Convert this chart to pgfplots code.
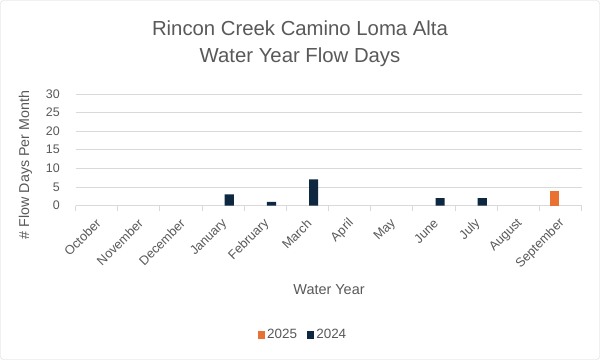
\documentclass[border=0pt]{standalone}
\usepackage{fontspec}
\setmainfont{Liberation Sans}
\usepackage{pgfplots}
\pgfplotsset{compat=1.18}
\definecolor{navy}{HTML}{0E2841}
\definecolor{orng}{HTML}{E97132}
\definecolor{txt}{HTML}{595959}
\definecolor{grd}{HTML}{D9D9D9}
\begin{document}
\begin{tikzpicture}[x=1bp,y=1bp]
\draw[grd, rounded corners=3bp, fill=white] (0.5,0.5) rectangle (599.5,359.5);
\path[use as bounding box] (0,0) rectangle (600,360);
\node[txt, font=\fontsize{20.4}{24}\selectfont] at (300,331.7) {Rincon Creek Camino Loma Alta};
\node[txt, font=\fontsize{20.4}{24}\selectfont] at (300,302.7) {Water Year Flow Days};
\node[txt, font=\fontsize{14.3}{17}\selectfont, rotate=90] at (25.5,195) {\# Flow Days Per Month};
\node[txt, font=\fontsize{14.5}{17}\selectfont] at (329,70) {Water Year};
\begin{axis}[
  at={(75.5bp,154.5bp)}, anchor=south west, scale only axis,
  width=506bp, height=111.5bp,
  ymin=0, ymax=30, ytick={0,5,...,30},
  xmin=-0.5, xmax=11.5, xtick={0,...,11},
  xticklabels={October,November,December,January,February,March,April,May,June,July,August,September},
  minor xtick={-0.5,0.5,...,11.5},
  axis x line*=bottom, axis y line*=left,
  y axis line style={draw=none},
  x axis line style={draw=grd, line width=0.8bp},
  ymajorgrids, grid style={draw=grd, line width=0.8bp},
  major tick length=0pt, minor tick length=5bp,
  tick align=outside,
  minor x tick style={draw=grd, line width=0.8bp},
  xtick style={draw=none}, ytick style={draw=none},
  /pgf/number format/assume math mode=true,
  x tick label style={xshift=2bp, yshift=-16bp, rotate=45, anchor=east, inner sep=0pt, font=\fontsize{12.8}{14}\selectfont, text=txt},
  y tick label style={anchor=east, inner sep=0pt, xshift=-15.5bp, font=\fontsize{12.5}{14}\selectfont, text=txt},
  ybar=3.2bp, bar width=9.2bp,
  legend style={at={(0.4496,-1.161)}, anchor=center, draw=none, fill=none, legend columns=2,
    font=\fontsize{13.5}{16}\selectfont, text=txt,
    /tikz/every even column/.append style={column sep=8bp}},
  legend image code/.code={\fill[#1,draw=none] (0bp,-3.65bp) rectangle (7.3bp,3.65bp);},
]
\addplot[fill=orng, draw=none] coordinates {(11,4)};
\addplot[fill=navy, draw=none] coordinates {(3,3) (4,1) (5,7) (8,2) (9,2)};
\legend{2025,2024}
\end{axis}
\end{tikzpicture}
\end{document}
